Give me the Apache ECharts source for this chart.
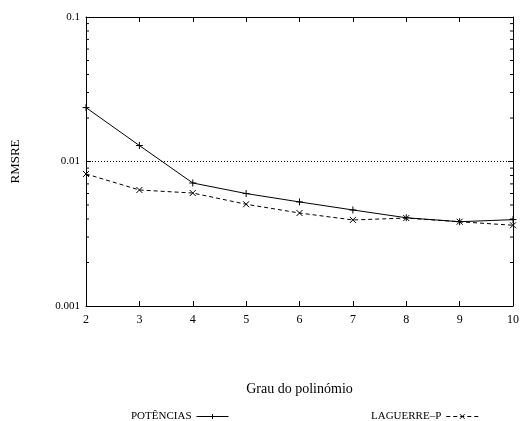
<!DOCTYPE html>
<html><head><meta charset="utf-8">
<script src="https://cdn.jsdelivr.net/npm/echarts@6/dist/echarts.min.js"></script>
<style>html,body{margin:0;padding:0;background:#fff}#c{width:522px;height:421px}</style>
</head><body><div id="c"></div>
<script>
var degrees = [2, 3, 4, 5, 6, 7, 8, 9, 10];
var potencias = [0.0236, 0.0129, 0.0071, 0.0060, 0.00525, 0.00462, 0.00408, 0.00383, 0.00396];
var laguerre = [0.0082, 0.00635, 0.00605, 0.00506, 0.0044, 0.00394, 0.00406, 0.00383, 0.00362];
var yTicks = [0.001, 0.01, 0.1];
var minorVals = [0.002,0.003,0.004,0.005,0.006,0.007,0.008,0.009,0.02,0.03,0.04,0.05,0.06,0.07,0.08,0.09];
var seriesNames = ['POTÊNCIAS', 'LAGUERRE\u2013P'];

var FONT = 'Liberation Serif';
var plusPath = 'path://M0,5L10,5M5,0L5,10';
var crossPath = 'path://M0,0L10,10M10,0L0,10';

var chart = echarts.init(document.getElementById('c'));
function pairs(vals){ return degrees.map(function(d,i){ return [d, vals[i]]; }); }

var legendCommon = { align: 'right', itemWidth: 32, itemHeight: 6, selectedMode: false,
  textStyle: { fontFamily: FONT, fontSize: 11, color: '#000' },
  lineStyle: { width: 1 }, itemStyle: { borderWidth: 1 } };

var option = {
  animation: false,
  backgroundColor: '#fff',
  textStyle: { fontFamily: FONT, color: '#000' },
  grid: { left: 86, top: 17, right: 6, bottom: 115 },
  legend: [
    Object.assign({ data: [seriesNames[0]], left: 126, top: 406 }, legendCommon),
    Object.assign({ data: [seriesNames[1]], left: 366, top: 406 }, legendCommon)
  ],
  xAxis: [
    { type: 'value', min: 2, max: 10, interval: 1, position: 'bottom',
      name: 'Grau do polinómio', nameLocation: 'middle', nameGap: 76,
      nameTextStyle: { fontFamily: FONT, fontSize: 14, color: '#000' },
      axisLine: { lineStyle: { color: '#000', width: 1 } },
      axisTick: { inside: true, length: 5, lineStyle: { color: '#000' } },
      axisLabel: { fontFamily: FONT, fontSize: 12, color: '#000', margin: 8 },
      splitLine: { show: false } },
    { type: 'value', min: 2, max: 10, interval: 1, position: 'top',
      axisLine: { lineStyle: { color: '#000', width: 1 } },
      axisTick: { inside: true, length: 5, lineStyle: { color: '#000' } },
      axisLabel: { show: false }, splitLine: { show: false } }
  ],
  yAxis: [
    { type: 'log', logBase: 10, min: 0.001, max: 0.1, position: 'left',
      name: 'RMSRE', nameLocation: 'middle', nameGap: 64, nameRotate: 90,
      nameTextStyle: { fontFamily: FONT, fontSize: 13, color: '#000' },
      axisLine: { show: true, lineStyle: { color: '#000', width: 1 } },
      axisTick: { inside: true, length: 5, lineStyle: { color: '#000' } },
      axisLabel: { fontFamily: FONT, fontSize: 11, color: '#000', margin: 6,
        formatter: function(v){ var r = yTicks.filter(function(t){ return Math.abs(t - v)/t < 1e-6; }); return r.length ? String(r[0]) : ''; } },
      splitLine: { show: true, lineStyle: { color: '#000', width: 1, type: [1, 2] } } },
    { type: 'log', logBase: 10, min: 0.001, max: 0.1, position: 'right',
      axisLine: { show: true, lineStyle: { color: '#000', width: 1 } },
      axisTick: { inside: true, length: 5, lineStyle: { color: '#000' } },
      axisLabel: { show: false }, splitLine: { show: false } }
  ],
  series: [
    { name: seriesNames[0], type: 'line', data: pairs(potencias),
      symbol: plusPath, symbolSize: 7, showSymbol: true,
      lineStyle: { color: '#000', width: 1, type: 'solid' },
      itemStyle: { color: 'transparent', borderColor: '#000', borderWidth: 1 }, z: 5 },
    { name: seriesNames[1], type: 'line', data: pairs(laguerre),
      symbol: crossPath, symbolSize: 6, showSymbol: true,
      lineStyle: { color: '#000', width: 1, type: [4, 3] },
      itemStyle: { color: 'transparent', borderColor: '#000', borderWidth: 1 }, z: 5 },
    { type: 'custom', data: minorVals.map(function(v){ return [2, v]; }), silent: true, z: 3,
      renderItem: function(params, api){
        var v = api.value(1);
        var l = api.coord([2, v]);
        var r = api.coord([10, v]);
        return { type: 'group', children: [
          { type: 'line', shape: { x1: l[0], y1: l[1], x2: l[0] + 3, y2: l[1] }, style: { stroke: '#000', lineWidth: 1 } },
          { type: 'line', shape: { x1: r[0] - 3, y1: r[1], x2: r[0], y2: r[1] }, style: { stroke: '#000', lineWidth: 1 } }
        ]};
      } }
  ]
};
chart.setOption(option);
</script></body></html>
